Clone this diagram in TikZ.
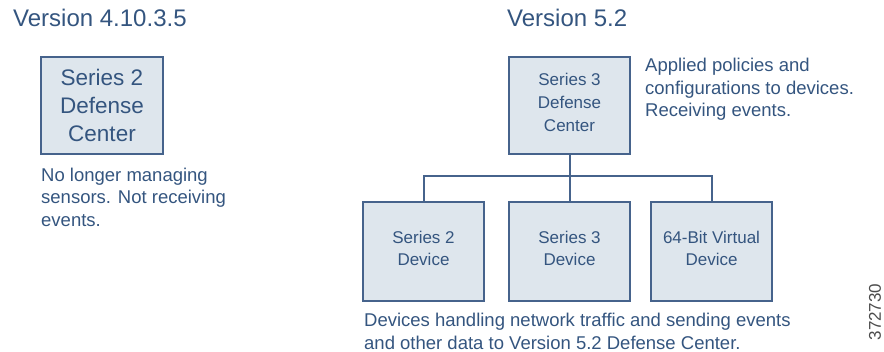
\documentclass[tikz,border=0pt]{standalone}
\usepackage{fontspec}
\setmainfont{Liberation Sans}
\definecolor{txtblue}{HTML}{34557F}
\definecolor{lineblue}{HTML}{46638C}
\definecolor{boxfill}{HTML}{DEE6ED}
\begin{document}
\begin{tikzpicture}[x=1pt,y=-1pt,
  title/.style={anchor=base west,inner sep=0pt,text=txtblue,font=\fontsize{24}{28}\selectfont},
  bigbox/.style={draw=lineblue,line width=1.8pt,fill=boxfill},
  boxtext/.style={inner sep=0pt,align=center,text=txtblue},
  note/.style={anchor=west,inner sep=0pt,align=left,text=txtblue,font=\fontsize{18.5}{22.5}\selectfont},
  link/.style={draw=lineblue,line width=2pt}]
\useasboundingbox (0,0) rectangle (884,352);
% titles
\node[title] (t1) at (13,27) {Version 4.10.3.5};
\node[title] (t2) at (507,27) {Version 5.2};
% boxes
\draw[bigbox] (41,57) rectangle (163,154);
\coordinate (b1) at (102,105.5);
\node[boxtext,font=\fontsize{22.5}{28}\selectfont] (s2dc) at (b1) {Series 2\\Defense\\Center};
\draw[bigbox] (509,57) rectangle (630,154);
\node[boxtext,font=\fontsize{17}{23}\selectfont] (s3dc) at (569.5,102) {Series 3\\Defense\\Center};
\coordinate (dcb) at (569.5,154);
\draw[bigbox] (363,202) rectangle (484,301);
\draw[bigbox] (509,202) rectangle (630,301);
\draw[bigbox] (651,202) rectangle (772,301);
\coordinate (d1t) at (423.5,202);
\coordinate (d2t) at (569.5,202);
\coordinate (d3t) at (711.5,202);
\node[boxtext,font=\fontsize{17}{22}\selectfont] (d1) at (423.5,248) {Series 2\\Device};
\node[boxtext,font=\fontsize{17}{22}\selectfont] (d2) at (569.5,248) {Series 3\\Device};
\node[boxtext,font=\fontsize{17}{22}\selectfont] (d3) at (711.5,248) {64-Bit Virtual\\Device};
% connectors
\coordinate (bus) at (569.5,176.5);
\draw[link] (dcb) -- (d2t);
\draw[link] (d1t) |- (bus) -| (d3t);
% notes
\node[note] (n1) at (41,197) {No longer managing\\sensors. Not receiving\\events.};
\node[note] (n2) at (645,89.5) {Applied policies and\\configurations to devices.\\Receiving events.};
\node[note] (n3) at (364,331.5) {Devices handling network traffic and sending events\\and other data to Version 5.2 Defense Center.};
\node[inner sep=0pt,rotate=90,text=black!70,font=\fontsize{17}{20}\selectfont] (id) at (875,312) {372730};
\end{tikzpicture}
\end{document}
